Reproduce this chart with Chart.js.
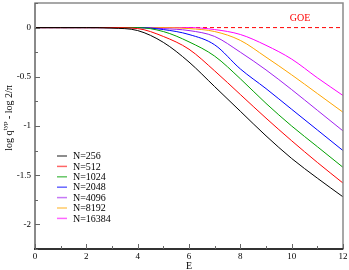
<!DOCTYPE html>
<html>
<head>
<meta charset="utf-8">
<style>
  html, body { margin: 0; padding: 0; background: #fff; }
  #wrap { width: 349px; height: 270px; }
</style>
<script src="https://cdn.jsdelivr.net/npm/chart.js"></script>
</head>
<body>
<div id="wrap"><canvas id="c" width="349" height="270"></canvas></div>
<script>
// values
const energies = [0, 1, 2, 3, 4, 5, 6, 7, 8, 9, 10, 11, 12];
const seriesNames = ["N=256", "N=512", "N=1024", "N=2048", "N=4096", "N=8192", "N=16384"];
const n256   = [0, 0, 0, -0.005, -0.03, -0.15, -0.35, -0.60, -0.85, -1.10, -1.33, -1.53, -1.72];
const n512   = [0, 0, 0, 0, -0.01, -0.09, -0.22, -0.44, -0.68, -0.92, -1.15, -1.37, -1.58];
const n1024  = [0, 0, 0, 0, 0, -0.04, -0.145, -0.29, -0.52, -0.77, -1.00, -1.21, -1.42];
const n2048  = [0, 0, 0, 0, 0, -0.02, -0.07, -0.175, -0.42, -0.62, -0.83, -1.04, -1.25];
const n4096  = [0, 0, 0, 0, 0, -0.01, -0.03, -0.09, -0.25, -0.43, -0.63, -0.84, -1.05];
const n8192  = [0, 0, 0, 0, 0, 0, -0.01, -0.04, -0.13, -0.30, -0.48, -0.67, -0.86];
const n16384 = [0, 0, 0, 0, 0, 0, 0, -0.02, -0.07, -0.18, -0.32, -0.51, -0.69];
const seriesValues = [n256, n512, n1024, n2048, n4096, n8192, n16384];
const seriesColors = ["#000000", "#ff0000", "#00a000", "#0000ff", "#a020f0", "#ffa500", "#ff00ff"];
const goeLevel = 0;
const xTicks = [0, 2, 4, 6, 8, 10, 12];
const xMinor = [1, 3, 5, 7, 9, 11];
const yTicks = [0, -0.5, -1, -1.5, -2];
const yMinor = [0.25, -0.25, -0.75, -1.25, -1.75, -2.25];

const serif = "'Liberation Serif', 'DejaVu Serif', serif";

const datasets = seriesValues.map((vals, i) => ({
  label: seriesNames[i],
  data: energies.map((e, k) => ({ x: e, y: vals[k] })),
  borderColor: seriesColors[i],
  borderWidth: 1,
  pointRadius: 0,
  showLine: true,
  cubicInterpolationMode: "monotone",
}));
datasets.push({
  label: "GOE",
  data: [{ x: 0, y: goeLevel }, { x: 12, y: goeLevel }],
  borderColor: "#ff0000",
  borderWidth: 1,
  borderDash: [4, 3],
  pointRadius: 0,
  showLine: true,
});

// frame, inward ticks, tick labels, axis titles, legend
const decorations = {
  id: "decorations",
  afterDraw(chart) {
    const ctx = chart.ctx;
    const a = chart.chartArea;
    const xs = chart.scales.x, ys = chart.scales.y;
    ctx.save();
    // frame
    ctx.strokeStyle = "#8a8a8a";
    ctx.lineWidth = 1.5;
    ctx.strokeRect(a.left, a.top, a.right - a.left, a.bottom - a.top);
    ctx.lineWidth = 2;
    ctx.beginPath();
    ctx.moveTo(a.left, a.top); ctx.lineTo(a.left, a.bottom);
    ctx.stroke();
    ctx.strokeStyle = "#333";
    ctx.beginPath();
    ctx.moveTo(a.left - 1, a.bottom); ctx.lineTo(a.right, a.bottom);
    ctx.stroke();

    // ticks
    ctx.lineWidth = 1;
    ctx.strokeStyle = "#666";
    const xt = (list, len) => list.forEach(v => {
      const px = Math.round(xs.getPixelForValue(v)) + 0.5;
      ctx.beginPath(); ctx.moveTo(px, a.bottom); ctx.lineTo(px, a.bottom - len); ctx.stroke();
    });
    const yt = (list, len) => list.forEach(v => {
      const py = Math.round(ys.getPixelForValue(v)) + 0.5;
      ctx.beginPath(); ctx.moveTo(a.left, py); ctx.lineTo(a.left + len, py); ctx.stroke();
    });
    xt(xTicks, 5); xt(xMinor, 3);
    yt(yTicks, 5); yt(yMinor, 3);

    // tick labels
    ctx.fillStyle = "#000";
    ctx.font = "9px " + serif;
    ctx.textAlign = "center";
    ctx.textBaseline = "top";
    xTicks.forEach(v => ctx.fillText(String(v), xs.getPixelForValue(v), a.bottom + 3));
    ctx.textAlign = "right";
    ctx.textBaseline = "middle";
    yTicks.forEach(v => ctx.fillText(String(v), a.left - 4, ys.getPixelForValue(v)));

    // axis titles
    ctx.font = "10px " + serif;
    ctx.textAlign = "center";
    ctx.textBaseline = "alphabetic";
    ctx.fillText("E", xs.getPixelForValue(6), 269);

    ctx.save();
    ctx.translate(12, 118);
    ctx.rotate(-Math.PI / 2);
    const p1 = "log q", sup = "typ", p2 = " - log 2/\u03c0";
    ctx.font = "10px " + serif;
    const w1 = ctx.measureText(p1).width, w3 = ctx.measureText(p2).width;
    ctx.font = "7px " + serif;
    const w2 = ctx.measureText(sup).width;
    const x0 = -(w1 + w2 + w3) / 2;
    ctx.textAlign = "left";
    ctx.font = "10px " + serif;
    ctx.fillText(p1, x0, 0);
    ctx.font = "7px " + serif;
    ctx.fillText(sup, x0 + w1, -5);
    ctx.font = "10px " + serif;
    ctx.fillText(p2, x0 + w1 + w2, 0);
    ctx.restore();

    // GOE label
    ctx.fillStyle = "#ff0000";
    ctx.font = "10px " + serif;
    ctx.textAlign = "center";
    ctx.fillText("GOE", 300, 21);

    // legend
    ctx.textAlign = "left";
    ctx.textBaseline = "middle";
    seriesNames.forEach((name, i) => {
      const y = 156 + i * 10.4;
      ctx.strokeStyle = seriesColors[i];
      ctx.globalAlpha = 0.6;
      ctx.lineWidth = 1.5;
      ctx.beginPath(); ctx.moveTo(57, y); ctx.lineTo(67, y); ctx.stroke();
      ctx.globalAlpha = 1;
      ctx.fillStyle = "#000";
      ctx.font = "10px " + serif;
      ctx.fillText(name, 73, y + 0.5);
    });
    ctx.restore();
  }
};

new Chart(document.getElementById("c"), {
  type: "scatter",
  data: { datasets },
  options: {
    responsive: false,
    animation: false,
    layout: { padding: { top: 3, right: 6, left: 0, bottom: 0 } },
    plugins: { legend: { display: false }, tooltip: { enabled: false } },
    scales: {
      x: {
        type: "linear",
        min: 0, max: 12,
        grid: { display: false, drawTicks: false },
        border: { display: false },
        afterBuildTicks: s => { s.ticks = xTicks.map(v => ({ value: v })); },
        afterFit: s => { s.height = 21; },
        ticks: { display: false },
      },
      y: {
        type: "linear",
        min: -2.25, max: 0.25,
        grid: { display: false, drawTicks: false },
        border: { display: false },
        afterBuildTicks: s => { s.ticks = yTicks.map(v => ({ value: v })); },
        afterFit: s => { s.width = 35; },
        ticks: { display: false },
      },
    },
  },
  plugins: [decorations],
});
</script>
</body>
</html>
